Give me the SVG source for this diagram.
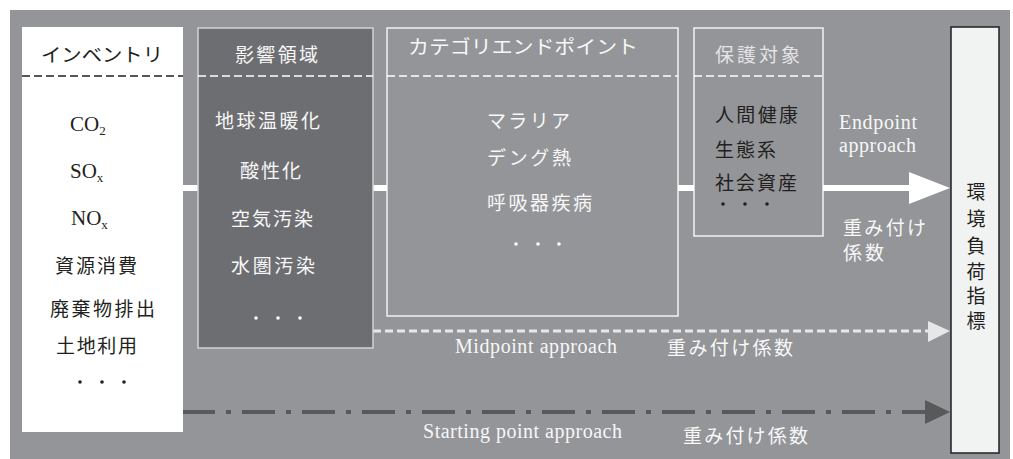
<svg xmlns="http://www.w3.org/2000/svg" width="1013" height="459" viewBox="0 0 1013 459">
<defs>
<style>
.jp{font-family:"Liberation Serif","Noto Sans CJK JP",serif;font-size:19px}
.en{font-family:"Liberation Serif","Times New Roman",serif;font-size:20px}
.chem{font-size:21px}
.sub{font-size:13px}
.w{fill:#f7f7f7}
.k{fill:#231f20}
.lg{fill:#e3e4e5}
.hd{fill:none;stroke-width:1.6;stroke-dasharray:8 4}
</style>
</defs>
<rect x="10" y="10" width="1000" height="449" fill="#939598"/>
<g id="connectors">
<line x1="183" y1="188" x2="912" y2="188" stroke="#ffffff" stroke-width="6"/>
<polygon points="909,172 950,188 909,204" fill="#ffffff"/>
<line x1="373" y1="331" x2="929" y2="331" stroke="#e6e7e8" stroke-width="3" stroke-dasharray="8 4"/>
<polygon points="928,321 950,331 928,342" fill="#e6e7e8"/>
<line x1="182" y1="412" x2="926" y2="412" stroke="#58595b" stroke-width="4" stroke-dasharray="33 11 5 11"/>
<polygon points="925,400 950,412 925,424" fill="#58595b"/>
</g>
<g id="inventory">
<rect x="22" y="27" width="161" height="405" fill="#ffffff"/>
<line x1="22" y1="76" x2="183" y2="76" class="hd" stroke="#231f20"/>
<text class="jp k" x="41" y="62" textLength="122" lengthAdjust="spacingAndGlyphs">インベントリ</text>
<text class="en chem k" x="70" y="131">CO<tspan class="sub" dy="4">2</tspan></text>
<text class="en chem k" x="70" y="178">SO<tspan class="sub" dy="4">x</tspan></text>
<text class="en chem k" x="71" y="225">NO<tspan class="sub" dy="4">x</tspan></text>
<text class="jp k" x="55" y="273" textLength="82">資源消費</text>
<text class="jp k" x="50" y="316" textLength="105">廃棄物排出</text>
<text class="jp k" x="56" y="353" textLength="81">土地利用</text>
<circle cx="80" cy="382" r="1.8" fill="#231f20"/><circle cx="102" cy="382" r="1.8" fill="#231f20"/><circle cx="124" cy="382" r="1.8" fill="#231f20"/>
</g>
<g id="impact">
<rect x="198" y="28" width="175" height="320" fill="#6d6e71" stroke="#d1d3d4" stroke-width="1.5"/>
<line x1="198" y1="76" x2="373" y2="76" class="hd" stroke="#ffffff"/>
<text class="jp w" x="235" y="62" textLength="83">影響領域</text>
<text class="jp w" x="215" y="128" textLength="105">地球温暖化</text>
<text class="jp w" x="240" y="178" textLength="61">酸性化</text>
<text class="jp w" x="231" y="226" textLength="82">空気汚染</text>
<text class="jp w" x="231" y="273" textLength="84">水圏汚染</text>
<circle cx="256" cy="318" r="1.8" fill="#ffffff"/><circle cx="278" cy="318" r="1.8" fill="#ffffff"/><circle cx="300" cy="318" r="1.8" fill="#ffffff"/>
</g>
<g id="category">
<rect x="387" y="28" width="291" height="288" fill="#939598" stroke="#ffffff" stroke-width="1.3"/>
<line x1="387" y1="76" x2="678" y2="76" class="hd" stroke="#ffffff"/>
<text class="jp w" x="408" y="54" textLength="230" lengthAdjust="spacingAndGlyphs">カテゴリエンドポイント</text>
<text class="jp w" x="487" y="128" textLength="83">マラリア</text>
<text class="jp w" x="487" y="165" textLength="84">デング熱</text>
<text class="jp w" x="487" y="210" textLength="105">呼吸器疾病</text>
<circle cx="516" cy="244" r="1.8" fill="#ffffff"/><circle cx="538" cy="244" r="1.8" fill="#ffffff"/><circle cx="559" cy="244" r="1.8" fill="#ffffff"/>
</g>
<g id="protection">
<rect x="694" y="28" width="129" height="208" fill="#939598" stroke="#ffffff" stroke-width="1.3"/>
<line x1="694" y1="76" x2="823" y2="76" class="hd" stroke="#ffffff"/>
<text class="jp lg" x="715" y="62" textLength="85">保護対象</text>
<text class="jp k" x="715" y="122" textLength="83">人間健康</text>
<text class="jp k" x="715" y="157" textLength="61">生態系</text>
<text class="jp k" x="715" y="190" textLength="82">社会資産</text>
<circle cx="723" cy="204" r="1.8" fill="#231f20"/><circle cx="745" cy="204" r="1.8" fill="#231f20"/><circle cx="767" cy="204" r="1.8" fill="#231f20"/>
</g>
<g id="labels">
<text class="en w" x="839" y="129" textLength="78">Endpoint</text>
<text class="en w" x="839" y="152" textLength="77">approach</text>
<text class="jp w" x="843" y="235" textLength="83">重み付け</text>
<text class="jp w" x="843" y="260" textLength="41">係数</text>
<text class="en w" x="455" y="353" textLength="162">Midpoint approach</text>
<text class="jp w" x="667" y="355" textLength="126">重み付け係数</text>
<text class="en w" x="423" y="438" textLength="199">Starting point approach</text>
<text class="jp w" x="683" y="443" textLength="125">重み付け係数</text>
</g>
<g id="indicator">
<rect x="951" y="27" width="48" height="426" fill="#f1f2f2" stroke="#231f20" stroke-width="1.5"/>
<text class="jp k" text-anchor="middle"><tspan x="976" y="199">環</tspan><tspan x="976" y="226">境</tspan><tspan x="976" y="253">負</tspan><tspan x="976" y="279">荷</tspan><tspan x="976" y="303">指</tspan><tspan x="976" y="328">標</tspan></text>
</g>
</svg>
